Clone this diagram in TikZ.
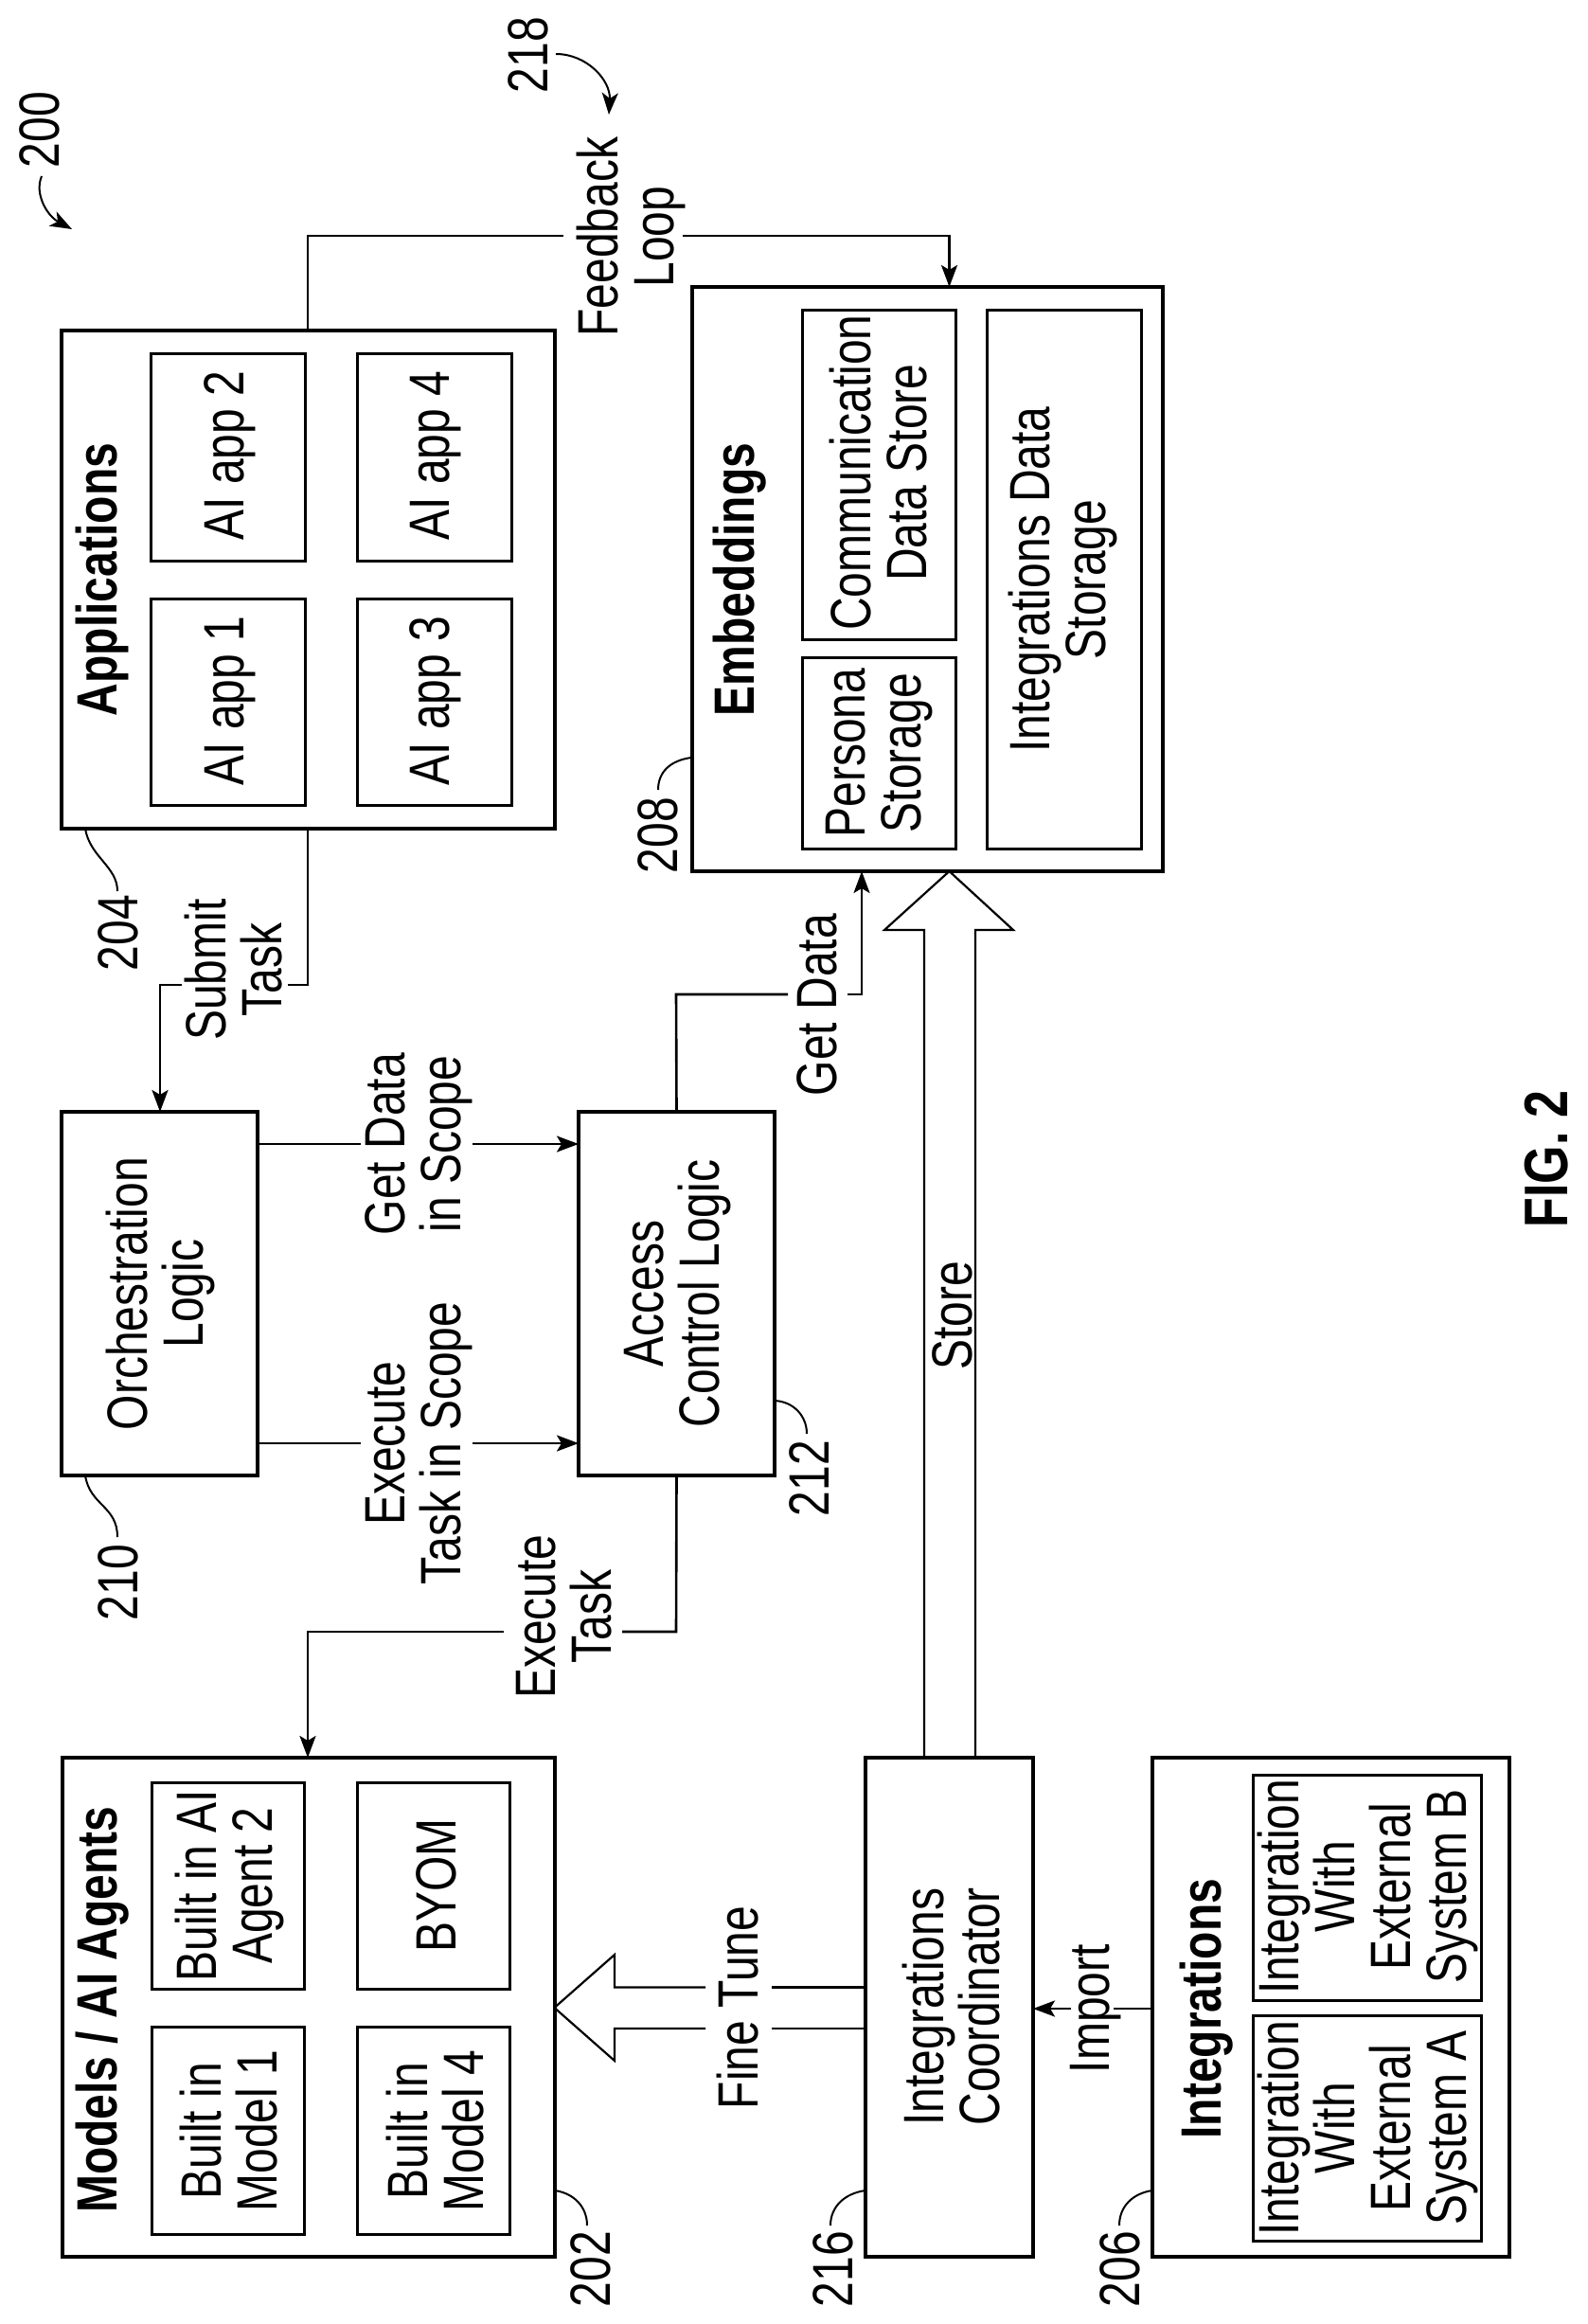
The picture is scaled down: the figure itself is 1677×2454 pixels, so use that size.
\documentclass[tikz,border=0pt]{standalone}
\usepackage{fontspec}
\setmainfont{Liberation Sans}[FakeStretch=0.80]
\usetikzlibrary{arrows.meta,calc}
\newcommand{\mybox}[6]{\node[#1,minimum width={(#5-#3)*1pt},minimum height={(#6-#4)*1pt}] (#2) at ({(#3+#5)/2},{(#4+#6)/2}) {};}
\tikzset{
  outerbox/.style={draw=black,line width=4pt,inner sep=0pt,outer sep=0pt,fill=white},
  innerbox/.style={draw=black,line width=3pt,inner sep=0pt,outer sep=0pt,fill=white},
  txt/.style={rotate=90,anchor=south,align=center,inner sep=0pt,outer sep=0pt,
    font=\fontsize{60}{58.7}\selectfont,
    execute at begin node={\rule{0pt}{44pt}},execute at end node={\rule[-13pt]{0pt}{13pt}}},
  title/.style={txt,font=\fontsize{60}{58.7}\selectfont\bfseries},
  figlabel/.style={rotate=90,anchor=base,inner sep=0pt,font=\fontsize{65}{65}\selectfont\bfseries},
  conn/.style={line width=2.6pt,line join=miter},
  arrowconn/.style={conn,-{Stealth[length=23pt,width=17pt,inset=5pt]}},
  leader/.style={line width=2pt},
  curvearrow/.style={line width=2pt,-{Stealth[length=23pt,width=17pt,inset=6pt]}},
  blockarrow/.style={draw=black,line width=2.2pt,line join=miter}
}
\begin{document}
\begin{tikzpicture}[x=1pt,y=-1pt]
\useasboundingbox (0,0) rectangle (1677,2454);
% --- boxes
\mybox{outerbox}{apps}{65}{349}{586}{875}
\mybox{innerbox}{app2}{159}{373}{322}{592}
\mybox{innerbox}{app1}{159}{632}{322}{850}
\mybox{innerbox}{app4}{377}{373}{540}{592}
\mybox{innerbox}{app3}{377}{632}{540}{850}
\mybox{outerbox}{embed}{730.5}{303}{1228}{920}
\mybox{innerbox}{comm}{847}{327}{1009}{675}
\mybox{innerbox}{persona}{847}{694.5}{1009}{896}
\mybox{innerbox}{intstore}{1042}{327}{1205}{896}
\mybox{outerbox}{orch}{65}{1174}{272}{1558}
\mybox{outerbox}{access}{611}{1174}{818}{1558}
\mybox{outerbox}{models}{66}{1856}{586}{2383}
\mybox{innerbox}{agent2}{160}{1882}{321}{2100}
\mybox{innerbox}{model1}{160}{2140}{321}{2359}
\mybox{innerbox}{byom}{377.5}{1882}{538}{2100}
\mybox{innerbox}{model4}{377.5}{2140}{538}{2359}
\mybox{outerbox}{coord}{914}{1856}{1091}{2383}
\mybox{outerbox}{integ}{1217}{1856}{1594}{2383}
\mybox{innerbox}{sysb}{1323}{1874}{1564}{2112}
\mybox{innerbox}{sysa}{1323}{2128}{1564}{2366}
% --- box texts
\node[title] (appsT) at (136,612) {Applications};
\node[txt] (app2T) at (270,481) {AI app 2};
\node[txt] (app1T) at (270,740) {AI app 1};
\node[txt] (app4T) at (487,481) {AI app 4};
\node[txt] (app3T) at (487,740) {AI app 3};
\node[title] (embedT) at (809,612) {Embeddings};
\node[txt] (commT) at (991,499) {Communication\\Data Store};
\node[txt] (personaT) at (985,795) {Persona\\Storage};
\node[txt] (intstoreT) at (1180,612) {Integrations Data\\Storage};
\node[txt] (orchT) at (227,1366) {Orchestration\\Logic};
\node[txt] (accessT) at (772,1366) {Access\\Control Logic};
\node[title] (modelsT) at (136,2122) {Models / AI Agents};
\node[txt] (agent2T) at (300,1991) {Built in AI\\Agent 2};
\node[txt] (model1T) at (305,2250) {Built in\\Model 1};
\node[txt] (byomT) at (494,1991) {BYOM};
\node[txt] (model4T) at (523,2250) {Built in\\Model 4};
\node[txt] (coordT) at (1068,2119) {Integrations\\Coordinator};
\node[title] (integT) at (1302,2121) {Integrations};
\node[txt] (sysbT) at (1561,1992) {Integration\\With\\External\\System B};
\node[txt] (sysaT) at (1561,2247) {Integration\\With\\External\\System A};
% --- connector labels
\node[txt] (fbT) at (724,250) {Feedback\\Loop};
\node[txt] (submitT) at (310,1024) {Submit\\Task};
\node[txt] (gdsT) at (499,1208) {Get Data\\in Scope};
\node[txt] (etsT) at (499,1524) {Execute\\Task in Scope};
\node[txt] (etT) at (658,1707) {Execute\\Task};
\node[txt] (gdT) at (896,1061) {Get Data};
\node[txt] (storeT) at (1039,1389) {Store};
\node[txt] (ftT) at (813,2120) {Fine Tune};
\node[txt] (importT) at (1184,2121) {Import};
% --- reference numerals
\node[txt] (n200) at (75,137) {200};
\node[txt] (n218) at (591,58) {218};
\node[txt] (n204) at (158,985) {204};
\node[txt] (n208) at (728,882) {208};
\node[txt] (n210) at (158,1671) {210};
\node[txt] (n212) at (888,1561) {212};
\node[txt] (n202) at (657,2396) {202};
\node[txt] (n216) at (913,2396) {216};
\node[txt] (n206) at (1216,2396) {206};
\node[figlabel] (fig) at (1655,1224) {FIG. 2};
% --- routing coordinates
\coordinate (fbA) at (325,249);
\coordinate (fbB) at (594.5,249);
\coordinate (fbC) at (721,249);
\coordinate (fbD) at (1002.5,249);
\coordinate (subA) at (325,1040);
\coordinate (subB) at (304,1040);
\coordinate (subC) at (192,1040);
\coordinate (subD) at (169,1040);
\coordinate (gdA) at (714,1050);
\coordinate (gdB) at (832,1050);
\coordinate (gdC) at (895,1050);
\coordinate (gdD) at (910,1050);
\coordinate (etA) at (714,1723);
\coordinate (etB) at (657,1723);
\coordinate (etC) at (532,1723);
\coordinate (etD) at (325,1723);
\coordinate (gdsA) at (381,1208);
\coordinate (gdsB) at (499,1208);
\coordinate (etsA) at (381,1524);
\coordinate (etsB) at (499,1524);
\coordinate (impA) at (1176,2121);
\coordinate (impB) at (1131,2121);
% --- connectors
\draw[conn] (fbA |- apps.north) -- (fbA) -- (fbB);
\draw[arrowconn] (fbC) -- (fbD) -- (fbD |- embed.north);
\draw[conn] (subA |- apps.south) -- (subA) -- (subB);
\draw[arrowconn] (subC) -- (subD) -- (subD |- orch.north);
\draw[conn] (orch.east |- gdsA) -- (gdsA);
\draw[arrowconn] (gdsB) -- (access.west |- gdsB);
\draw[conn] (orch.east |- etsA) -- (etsA);
\draw[arrowconn] (etsB) -- (access.west |- etsB);
\draw[conn] (access.north) -- (gdA) -- (gdB);
\draw[arrowconn] (gdC) -- (gdD) -- (gdD |- embed.south);
\draw[conn] (access.south) -- (etA) -- (etB);
\draw[arrowconn] (etC) -- (etD) -- (etD |- models.north);
\draw[conn] (integ.west |- impA) -- (impA);
\draw[arrowconn] (impB) -- (coord.east |- impB);
% --- block arrows
\coordinate (stL) at (976,982);
\coordinate (stR) at (1030,982);
\draw[blockarrow] (stL |- coord.north) -- (stL) -- (934,982) -- (fbD |- embed.south) -- (1070,982) -- (stR) -- (stR |- coord.north);
\coordinate (ftT1) at (745,2098.5);
\coordinate (ftB1) at (745,2142);
\coordinate (ftT2) at (815,2098.5);
\coordinate (ftB2) at (815,2142);
\draw[blockarrow] (ftT1) -- (649,2098.5) -- (649,2064) -- (models.east) ++(0,1) -- (649,2176) -- (649,2142) -- (ftB1);
\draw[blockarrow] (ftT2) -- (coord.west |- ftT2);
\draw[blockarrow] (ftB2) -- (coord.west |- ftB2);
% --- leaders
\draw[leader] (90,875) .. controls (95,905) and (124,915) .. (124,941);
\draw[leader] (730,800) .. controls (708,803) and (695,815) .. (695,834);
\draw[leader] (90,1558) .. controls (95,1590) and (124,1590) .. (124,1623);
\draw[leader] (818,1479) .. controls (838,1480) and (852,1495) .. (852,1514);
\draw[leader] (586,2313) .. controls (606,2316) and (620,2330) .. (620,2350);
\draw[leader] (914,2313) .. controls (892,2316) and (877,2330) .. (877,2350);
\draw[leader] (1217,2313) .. controls (1196,2316) and (1182,2330) .. (1182,2350);
\draw[curvearrow] (44,186) .. controls (36,205) and (50,228) .. (76,242);
\draw[curvearrow] (587,57) .. controls (620,57) and (645,85) .. (643,121);
\end{tikzpicture}
\end{document}
